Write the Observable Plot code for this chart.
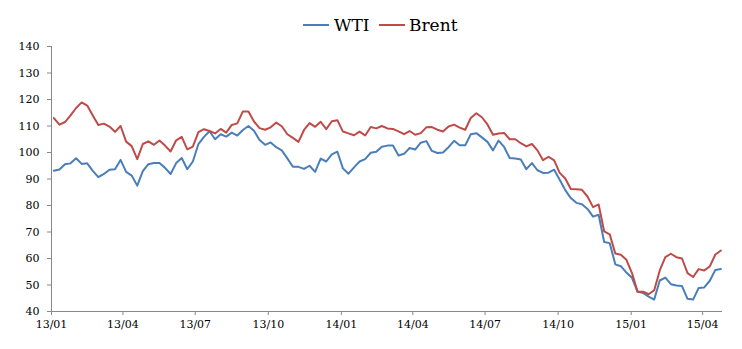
<!DOCTYPE html>
<html>
<head>
<meta charset="utf-8">
<script src="https://cdn.jsdelivr.net/npm/d3@7"></script>
<script src="https://cdn.jsdelivr.net/npm/@observablehq/plot@0.6"></script>
<style>
  html, body { margin: 0; padding: 0; background: #fff; }
  #wrap { width: 742px; height: 349px; position: relative; overflow: hidden; }
  #legend { position: relative; height: 38px; font-family: "DejaVu Serif", serif; font-size: 17px; color: #000; }
  .sw { position: absolute; top: 24px; width: 26px; height: 2px; }
  .lb { position: absolute; top: 15px; line-height: 20px; }
  svg g[aria-label="x-axis tick"] path, svg g[aria-label="y-axis tick"] path { stroke: #888; }
</style>
</head>
<body>
<div id="wrap">
  <div id="legend">
    <div class="sw" style="left:303px;background:#4A7EBB"></div>
    <div class="lb" style="left:334px">WTI</div>
    <div class="sw" style="left:379px;background:#BE4B48"></div>
    <div class="lb" style="left:409px">Brent</div>
  </div>
  <div id="chart"></div>
</div>
<script>
// Weekly (Friday) closes, USD/bbl
const dates = d3.utcFriday.range(new Date(Date.UTC(2013, 0, 1)), new Date(Date.UTC(2015, 3, 25)));

const wtiValues = [
  // 2013
  93.1, 93.6, 95.6, 95.9, 97.8, 95.7, 95.9, 93.1, 90.7, 91.9, 93.5, 93.7, 97.2,
  92.7, 91.3, 87.5, 93.0, 95.6, 96.0, 96.0, 94.2, 91.9, 96.0, 97.9, 93.7, 96.6,
  103.2, 105.9, 108.0, 105.0, 106.9, 106.0, 107.5, 106.4, 108.5, 110.0, 108.2, 104.7, 102.9,
  103.8, 102.0, 100.8, 97.8, 94.6, 94.6, 93.8, 95.0, 92.7, 97.7, 96.6, 99.3, 100.3,
  // 2014
  94.0, 92.0, 94.4, 96.6, 97.5, 99.9, 100.3, 102.2, 102.6, 102.6, 98.9, 99.5, 101.7,
  101.1, 103.7, 104.3, 100.6, 99.8, 100.0, 102.0, 104.4, 102.7, 102.7, 106.9, 107.3, 105.7,
  104.0, 100.8, 104.5, 102.1, 97.9, 97.7, 97.4, 93.7, 96.0, 93.3, 92.3, 92.4, 93.5,
  89.7, 85.8, 82.8, 81.0, 80.5, 78.7, 75.8, 76.5, 66.2, 65.8, 57.8, 57.1, 54.7,
  // 2015
  52.7, 47.5, 47.0, 45.6, 44.5, 51.7, 52.8, 50.3, 49.8, 49.6, 44.8, 44.5, 48.9,
  49.1, 51.6, 55.7, 56.0
];

const brentValues = [
  // 2013
  113.0, 110.5, 111.5, 114.0, 116.8, 118.9, 117.7, 114.0, 110.4, 110.9, 109.8, 107.8, 110.0,
  104.1, 102.4, 97.5, 103.2, 104.2, 102.9, 104.5, 102.6, 100.4, 104.6, 105.9, 101.2, 102.2,
  107.7, 108.8, 108.1, 107.2, 108.9, 107.5, 110.4, 111.0, 115.5, 115.5, 111.7, 109.2, 108.6,
  109.5, 111.3, 109.9, 106.9, 105.5, 104.0, 108.5, 111.1, 109.7, 111.6, 108.8, 111.8, 112.2,
  // 2014
  107.9, 107.2, 106.5, 107.9, 106.4, 109.6, 109.1, 110.0, 109.1, 108.9, 108.0, 106.9, 108.1,
  106.7, 107.3, 109.5, 109.6, 108.6, 107.9, 109.8, 110.5, 109.4, 108.6, 113.0, 114.8, 113.3,
  110.6, 106.7, 107.2, 107.4, 105.0, 105.0, 103.5, 102.3, 103.2, 100.8, 97.1, 98.4, 97.0,
  92.3, 90.2, 86.2, 86.1, 85.9, 83.4, 79.4, 80.4, 70.2, 69.1, 61.9, 61.4, 59.5,
  // 2015
  54.5, 47.5, 47.5, 46.5, 48.0, 55.5, 60.5, 61.8, 60.5, 60.0, 54.5, 53.0, 56.0,
  55.5, 57.0, 61.5, 63.0
];

const yTicks = [40, 50, 60, 70, 80, 90, 100, 110, 120, 130, 140];
const xStart = new Date(Date.UTC(2013, 0, 1));
const xEnd = new Date(Date.UTC(2015, 3, 26));

const wti = dates.map((d, i) => ({date: d, value: wtiValues[i]})).filter(r => r.value != null);
const brent = dates.map((d, i) => ({date: d, value: brentValues[i]})).filter(r => r.value != null);

const chart = Plot.plot({
  width: 742,
  height: 311,
  marginTop: 8,
  marginBottom: 38,
  marginLeft: 51,
  marginRight: 20,
  style: {fontFamily: "DejaVu Serif, serif", fontSize: "11px", color: "#000", background: "#fff"},
  x: {type: "utc", domain: [xStart, xEnd]},
  y: {domain: [40, 140]},
  marks: [
    Plot.axisX({ticks: d3.utcMonth.every(3), tickFormat: d3.utcFormat("%y/%m"), tickSize: 4, tickPadding: 5, label: null}),
    Plot.axisY({ticks: yTicks, tickSize: 4, tickPadding: 8, label: null}),
    Plot.ruleY([40], {stroke: "#888"}),
    Plot.ruleX([xStart], {stroke: "#888"}),
    Plot.line(wti, {x: "date", y: "value", stroke: "#4A7EBB", strokeWidth: 2}),
    Plot.line(brent, {x: "date", y: "value", stroke: "#BE4B48", strokeWidth: 2})
  ]
});
document.getElementById("chart").appendChild(chart);
</script>
</body>
</html>
